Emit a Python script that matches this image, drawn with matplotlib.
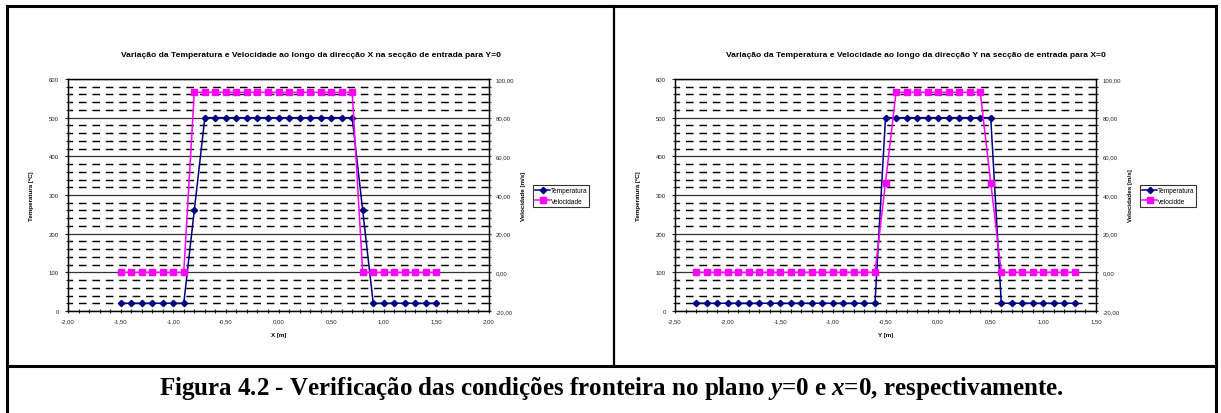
import numpy as np
import matplotlib
matplotlib.use('Agg')
import matplotlib.pyplot as plt
from matplotlib.lines import Line2D
from matplotlib.ticker import MultipleLocator, FuncFormatter

#---------------------------------------------------------------------#
# Data                                  #
#---------------------------------------------------------------------#
xLeft = [-1.5, -1.4, -1.3, -1.2, -1.1, -1.0, -0.9, -0.8, -0.7, -0.6, -0.5,
         -0.4, -0.3, -0.2, -0.1, 0.0, 0.1, 0.2, 0.3, 0.4, 0.5, 0.6, 0.7,
         0.8, 0.9, 1.0, 1.1, 1.2, 1.3, 1.4, 1.5]
tempLeft = [20, 20, 20, 20, 20, 20, 20, 260, 500, 500, 500, 500, 500, 500,
            500, 500, 500, 500, 500, 500, 500, 500, 500, 260, 20, 20, 20, 20,
            20, 20, 20]
velLeft = [0, 0, 0, 0, 0, 0, 0, 93.1, 93.1, 93.1, 93.1, 93.1, 93.1, 93.1,
           93.1, 93.1, 93.1, 93.1, 93.1, 93.1, 93.1, 93.1, 93.1, 0, 0, 0, 0,
           0, 0, 0, 0]

yRight = [-2.3, -2.2, -2.1, -2.0, -1.9, -1.8, -1.7, -1.6, -1.5, -1.4, -1.3,
          -1.2, -1.1, -1.0, -0.9, -0.8, -0.7, -0.6, -0.5, -0.4, -0.3, -0.2,
          -0.1, 0.0, 0.1, 0.2, 0.3, 0.4, 0.5, 0.6, 0.7, 0.8, 0.9, 1.0, 1.1,
          1.2, 1.3]
tempRight = [20, 20, 20, 20, 20, 20, 20, 20, 20, 20, 20, 20, 20, 20, 20, 20,
             20, 20, 500, 500, 500, 500, 500, 500, 500, 500, 500, 500, 500,
             20, 20, 20, 20, 20, 20, 20, 20]
velRight = [0, 0, 0, 0, 0, 0, 0, 0, 0, 0, 0, 0, 0, 0, 0, 0, 0, 0, 46.4,
            93.1, 93.1, 93.1, 93.1, 93.1, 93.1, 93.1, 93.1, 93.1, 46.4,
            0, 0, 0, 0, 0, 0, 0, 0]

titleLeft = 'Variação da Temperatura e Velocidade ao longo da direcção X na secção de entrada para Y=0'
titleRight = 'Variação da Temperatura e Velocidade ao longo da direcção Y na secção de entrada para X=0'

W, H = 1221, 414
plt.rcParams['font.family'] = ['Liberation Sans', 'DejaVu Sans']
plt.rcParams['mathtext.fontset'] = 'custom'
plt.rcParams['mathtext.rm'] = 'Liberation Serif:bold'
plt.rcParams['mathtext.it'] = 'Liberation Serif:italic:bold'
plt.rcParams['mathtext.bf'] = 'Liberation Serif:bold'

def comma(v, pos):
  return ('%.2f' % v).replace('.', ',')

def drawChart(fig, left, x, temp, vel, xlim, xlabel, vlabel, leglabels):
  #-------------------------------------------------------------------#
  # left: pixel position of plot area left edge                       #
  #-------------------------------------------------------------------#
  ax1 = fig.add_axes([left / W, 102 / H, 421 / W, 232 / H])
  ax1.set_xlim(xlim)
  ax1.set_ylim(0, 600)
  ax1.xaxis.set_major_locator(MultipleLocator(0.5))
  ax1.xaxis.set_minor_locator(MultipleLocator(0.1))
  ax1.yaxis.set_major_locator(MultipleLocator(100))
  ax1.yaxis.set_minor_locator(MultipleLocator(20))
  ax1.xaxis.set_major_formatter(FuncFormatter(comma))
  ax1.grid(which='major', axis='y', color='#333333', linewidth=0.9, linestyle='-')
  ax1.grid(which='minor', axis='y', color='black', linewidth=1.05, linestyle=(2, (5.2, 4.0)))
  ax1.tick_params(axis='both', which='both', labelsize=4.3, colors='#222222', width=0.8)
  ax1.tick_params(axis='y', which='major', direction='out', length=2.5, pad=4)
  ax1.tick_params(axis='y', which='minor', direction='inout', length=3)
  ax1.tick_params(axis='x', which='both', direction='inout', length=3, pad=3.5)
  for sp in ax1.spines.values():
    sp.set_linewidth(0.9)
  ax1.set_axisbelow(True)

  l1, = ax1.plot(x, temp, color='#000080', marker='D', markersize=3.2, linewidth=1.1, label=leglabels[0])
  ax1.set_xlabel(xlabel, fontsize=4.5, fontweight='bold')
  ax1.xaxis.set_label_coords(0.5, -0.09)
  ax1.set_ylabel('Temperatura [ºC]', fontsize=4.5, fontweight='bold')
  ax1.yaxis.set_label_coords(-0.08, 0.5)

  ax2 = ax1.twinx()
  ax2.set_ylim(-20, 100)
  ax2.yaxis.set_major_locator(MultipleLocator(20))
  ax2.yaxis.set_minor_locator(MultipleLocator(4))
  ax2.yaxis.set_major_formatter(FuncFormatter(comma))
  ax2.tick_params(axis='y', which='both', labelsize=4.3, colors='#222222', width=0.8)
  ax2.tick_params(axis='y', which='major', direction='inout', length=3.5, pad=3)
  ax2.tick_params(axis='y', which='minor', direction='inout', length=3)
  for sp in ax2.spines.values():
    sp.set_linewidth(0.9)
  l2, = ax2.plot(x, vel, color='#FF00FF', marker='s', markersize=3.8, linewidth=1.1, label=leglabels[1])
  ax2.set_ylabel(vlabel, fontsize=4.5, fontweight='bold')
  ax2.yaxis.set_label_coords(1.075, 0.5)

  leg = ax2.legend(handles=[l1, l2], loc='upper left', bbox_to_anchor=(1.105, 0.545),
                   fontsize=4.7, frameon=True, fancybox=False, edgecolor='black',
                   handlelength=2.2, handletextpad=0.1, borderpad=0.35, labelspacing=0.6,
                   borderaxespad=0)
  leg.get_frame().set_linewidth(0.8)
  return ax1, ax2

fig = plt.figure(figsize=(W / 100, H / 100), dpi=100)

drawChart(fig, 68, xLeft, tempLeft, velLeft, (-2, 2), 'X [m]', 'Velocidade [m/s]',
          ['Temperatura', 'Velocidade'])
drawChart(fig, 675, yRight, tempRight, velRight, (-2.5, 1.5), 'Y [m]', 'Velocidades [m/s]',
          ['Temperatura', 'velocidde'])

fig.text(311 / W, 1 - 56 / H, titleLeft, fontsize=6.1, fontweight='bold', ha='center', va='center')
fig.text(916 / W, 1 - 56 / H, titleRight, fontsize=6.1, fontweight='bold', ha='center', va='center')

#---------------------------------------------------------------------#
# Frame around both charts and caption                                #
#---------------------------------------------------------------------#
def fx(px):
  return px / W

def fy(py):
  return 1 - py / H

frame = [((6.5, 6.5), (7, 413)), ((1216, 1216), (7, 413)), ((6.5, 1216), (7, 7)),
         ((6.5, 1216), (367, 367))]
for xs, ys in frame:
  fig.add_artist(Line2D([fx(v) for v in xs], [fy(v) for v in ys], color='black', linewidth=2.2))
fig.add_artist(Line2D([fx(614), fx(614)], [fy(7), fy(367)], color='black', linewidth=1.6))

fig.text(fx(611), fy(389),
         r'Figura 4.2 - Verificação das condições fronteira no plano $\mathit{y}$=0 e $\mathit{x}$=0, respectivamente.',
         fontsize=18, fontweight='bold', family='Liberation Serif', ha='center', va='center')

plt.savefig('out.png', dpi=100)
